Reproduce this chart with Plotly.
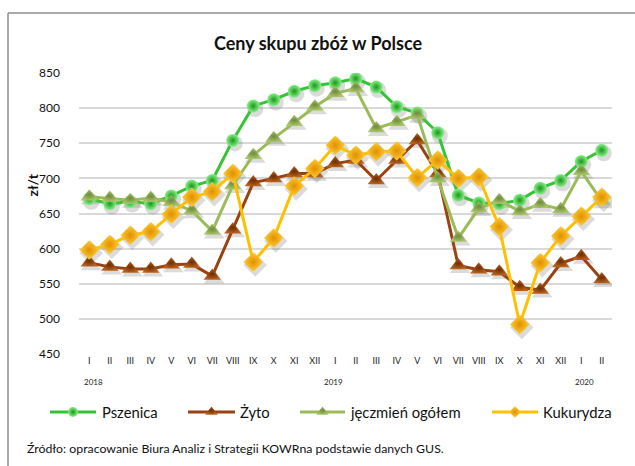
import plotly.graph_objects as go

months = ["I", "II", "III", "IV", "V", "VI", "VII", "VIII", "IX", "X", "XI", "XII",
          "I", "II", "III", "IV", "V", "VI", "VII", "VIII", "IX", "X", "XI", "XII",
          "I", "II"]
years = ["2018", "2019", "2020"]
year_pos = [0.2, 11.9, 24.15]

pszenica = [671, 664, 667, 664, 675, 689, 697, 754, 803, 812, 824, 832, 836,
            842, 830, 802, 793, 765, 676, 665, 664, 669, 686, 697, 724, 740]
zyto = [580, 574, 571, 571, 577, 578, 561, 627, 694, 700, 707, 707, 721,
        726, 697, 726, 754, 707, 576, 570, 567, 545, 541, 579, 589, 556]
jeczmien = [674, 672, 669, 672, 666, 654, 625, 690, 733, 757, 780, 802, 821,
            828, 771, 780, 790, 700, 615, 657, 669, 653, 663, 656, 710, 668]
kukurydza = [598, 606, 619, 624, 649, 673, 681, 707, 581, 615, 689, 714, 747,
             733, 738, 739, 701, 726, 700, 702, 631, 492, 580, 618, 646, 673]

y_ticks = [450, 500, 550, 600, 650, 700, 750, 800, 850]
Y_MIN, Y_MAX = 450, 850

W, H = 635, 466
PL, PR, PT, PB = 79, 612, 73, 354   # plot area in pixels


def px(x):
    return x / W


def py(y):
    return 1 - y / H


FONT = "Lato"
x_idx = list(range(len(months)))
X_RANGE = [-0.5, len(months) - 0.5]

# shadow offset (pixels) converted to axis units for a shifted overlay axis
SH_DX, SH_DY = 2.0, 3.0
dx_u = SH_DX * (X_RANGE[1] - X_RANGE[0]) / (PR - PL)
dy_u = SH_DY * (Y_MAX - Y_MIN) / (PB - PT)

# name, values, line colour, symbol, size, legend size, grad centre, grad edge, legend line x0, x1, text x
series = [
    ("Pszenica", pszenica, "#35C435", "circle", 13, 10, "#8CF08C", "#189818", 50, 96, 100),
    ("Żyto", zyto, "#9A4310", "triangle-up", 15, 11, "#B8621F", "#6E2C00", 188, 235, 238),
    ("jęczmień ogółem", jeczmien, "#9BBB59", "triangle-up", 15, 11, "#A9C56A", "#6F8A3A", 300, 345, 348),
    ("Kukurydza", kukurydza, "#FFC000", "diamond", 15, 9, "#FFCC33", "#E09000", 492, 538, 541),
]
LEG_Y = 412

fig = go.Figure()
# soft shadows (drawn on a slightly shifted overlay axis)
for name, vals, lc, sym, size, lsize, c1, c2, lx0, lx1, tx in series:
    fig.add_trace(go.Scatter(
        x=x_idx, y=vals, mode="markers", showlegend=False, hoverinfo="skip",
        xaxis="x3", yaxis="y3",
        marker=dict(symbol=sym, size=size + 3, color="rgba(90,90,90,0.22)", line=dict(width=0)),
    ))
# main series
for name, vals, lc, sym, size, lsize, c1, c2, lx0, lx1, tx in series:
    fig.add_trace(go.Scatter(
        x=x_idx, y=vals, name=name, mode="lines+markers", showlegend=False,
        xaxis="x4", yaxis="y4",
        line=dict(color=lc, width=3),
        marker=dict(symbol=sym, size=size, color=c1,
                    gradient=dict(type="radial", color=c2),
                    line=dict(width=0)),
    ))

annotations = [
    dict(text="<b>Ceny skupu zbóż w Polsce</b>", x=px(318), xref="paper",
         y=py(43), yref="paper", showarrow=False,
         font=dict(family=FONT, size=18, color="#111"), xanchor="center", yanchor="middle"),
    dict(text="<b>zł/t</b>", x=px(22), y=py(185), xref="paper", yref="paper",
         showarrow=False, textangle=-90, font=dict(family=FONT, size=14, color="#111")),
    dict(text="Źródło: opracowanie Biura Analiz i Strategii KOWRna podstawie danych GUS.",
         x=px(25), y=py(448), xref="paper", yref="paper", showarrow=False,
         xanchor="left", yanchor="middle", font=dict(family=FONT, size=12.3, color="#111")),
]
for yr, pos in zip(years, year_pos):
    annotations.append(dict(text=yr, x=pos, xref="x", y=py(382), yref="paper",
                            showarrow=False, xanchor="center", yanchor="middle",
                            font=dict(family=FONT, size=8, color="#222")))

shapes = [
    dict(type="line", xref="paper", yref="paper", x0=px(8), x1=px(640),
         y0=py(13), y1=py(13), line=dict(color="#8C8C8C", width=1.5)),
    dict(type="line", xref="paper", yref="paper", x0=px(8), x1=px(8),
         y0=py(13), y1=py(470), line=dict(color="#8C8C8C", width=1.5)),
]

# hand-built legend (line sample + marker + label) on a full-figure pixel subplot
for name, vals, lc, sym, size, lsize, c1, c2, lx0, lx1, tx in series:
    fig.add_trace(go.Scatter(
        x=[lx0, lx1], y=[LEG_Y, LEG_Y], xaxis="x2", yaxis="y2", mode="lines",
        showlegend=False, hoverinfo="skip", line=dict(color=lc, width=3),
    ))
    fig.add_trace(go.Scatter(
        x=[(lx0 + lx1) / 2], y=[LEG_Y], xaxis="x2", yaxis="y2", mode="markers",
        showlegend=False, hoverinfo="skip",
        marker=dict(symbol=sym, size=lsize, color=c1,
                    gradient=dict(type="radial", color=c2), line=dict(width=0)),
    ))
    annotations.append(dict(text=name, x=px(tx), y=py(LEG_Y), xref="paper", yref="paper",
                            showarrow=False, xanchor="left", yanchor="middle",
                            font=dict(family=FONT, size=14.8, color="#111")))

x_dom = [PL / W, PR / W]
y_dom = [1 - PB / H, 1 - PT / H]

fig.update_layout(
    width=W, height=H,
    margin=dict(l=0, r=0, t=0, b=0, autoexpand=False),
    paper_bgcolor="white", plot_bgcolor="rgba(0,0,0,0)",
    font=dict(family=FONT, color="#111"),
    showlegend=False,
    xaxis=dict(domain=x_dom, anchor="y", range=X_RANGE, tickmode="array", tickvals=x_idx,
               ticktext=months, showgrid=False, zeroline=False, showline=False,
               ticks="", tickfont=dict(family=FONT, size=9, color="#222")),
    yaxis=dict(domain=y_dom, anchor="x", range=[Y_MIN, Y_MAX], tickmode="array",
               tickvals=y_ticks, showgrid=True, gridcolor="#D9D9D9", gridwidth=1.5,
               zeroline=False, showline=False, ticks="", ticklabelstandoff=18,
               tickfont=dict(family=FONT, size=12, color="#111")),
    xaxis2=dict(domain=[0, 1], anchor="y2", range=[0, W], visible=False),
    yaxis2=dict(domain=[0, 1], anchor="x2", range=[H, 0], visible=False),
    xaxis3=dict(overlaying="x", range=[X_RANGE[0] - dx_u, X_RANGE[1] - dx_u], visible=False),
    yaxis3=dict(overlaying="y", range=[Y_MIN + dy_u, Y_MAX + dy_u], visible=False),
    xaxis4=dict(overlaying="x", range=X_RANGE, visible=False),
    yaxis4=dict(overlaying="y", range=[Y_MIN, Y_MAX], visible=False),
    annotations=annotations,
    shapes=shapes,
)

fig.write_html("out.html", config={"displayModeBar": False},
               post_script="document.body.style.margin='0';document.body.style.padding='0';")
